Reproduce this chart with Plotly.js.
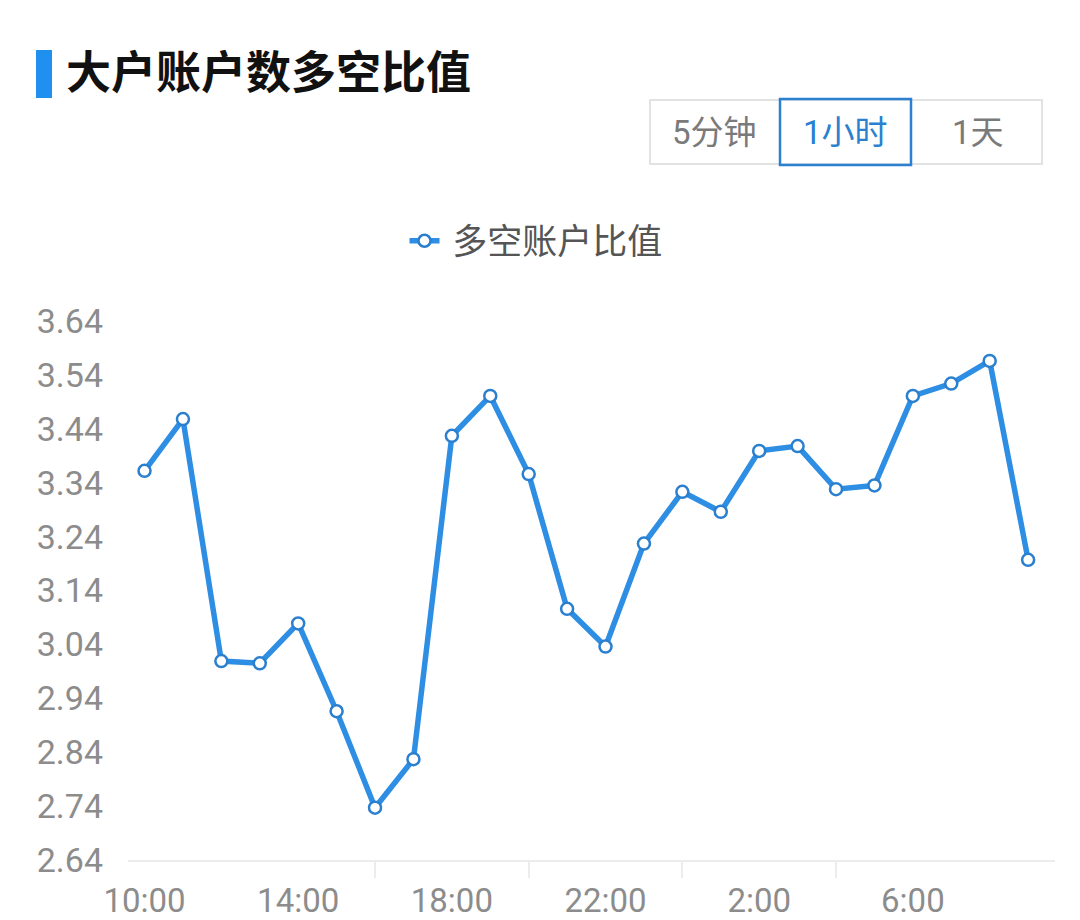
<!DOCTYPE html>
<html>
<head>
<meta charset="utf-8">
<script src="https://cdn.plot.ly/plotly-3.0.1.min.js"></script>
<style>
  html, body { margin: 0; padding: 0; background: #ffffff; }
  #chart { width: 1080px; height: 920px; }
</style>
</head>
<body>
<div id="chart"></div>
<script>
// Hourly long/short account ratio of large traders
const hours = ['10:00','11:00','12:00','13:00','14:00','15:00','16:00','17:00',
               '18:00','19:00','20:00','21:00','22:00','23:00','0:00','1:00',
               '2:00','3:00','4:00','5:00','6:00','7:00','8:00','9:00'];
const ratio = [3.362, 3.458, 3.009, 3.005, 3.079, 2.916, 2.737, 2.827,
               3.427, 3.501, 3.356, 3.106, 3.036, 3.227, 3.323, 3.286,
               3.399, 3.408, 3.328, 3.335, 3.501, 3.524, 3.566, 3.197];
const labelHours = ['10:00','14:00','18:00','22:00','2:00','6:00'];
const tickHours = ['16:00','20:00','0:00','4:00'];
const yTicks = [2.64, 2.74, 2.84, 2.94, 3.04, 3.14, 3.24, 3.34, 3.44, 3.54, 3.64];
const seriesName = '多空账户比值';
const chartTitle = '大户账户数多空比值';
const periods = ['5分钟', '1小时', '1天'];
const activePeriod = '1小时';

// page geometry (pixels)
const W = 1080, H = 920;
const M = { l: 128, r: 25, t: 321, b: 60 };
const PW = W - M.l - M.r, PH = H - M.t - M.b;
const px = x => (x - M.l) / PW;          // pixel x -> paper x
const py = y => 1 - (y - M.t) / PH;      // pixel y -> paper y

const blue = '#2d8ee3';
const numFont = 'Roboto, "Noto Sans CJK SC", sans-serif';
const cjkFont = '"Noto Sans CJK SC", Roboto, sans-serif';

const traces = [
  { // carries the secondary axis that draws the tick marks
    x: hours, y: ratio, xaxis: 'x2', yaxis: 'y', type: 'scatter', mode: 'lines',
    line: { width: 0 }, opacity: 0, showlegend: false, hoverinfo: 'skip'
  },
  {
    x: hours, y: ratio, name: '\u00a0' + seriesName, type: 'scatter', mode: 'lines+markers',
    line: { color: blue, width: 5.5 },
    marker: { size: 12, color: '#ffffff', line: { color: '#2a7fcf', width: 2.5 } }
  }
];

// segmented period switch
const btnX = [650, 780, 911, 1042];
const shapes = [
  { type: 'rect', xref: 'paper', yref: 'paper', x0: px(36), x1: px(52), y0: py(98), y1: py(50),
    fillcolor: '#1f8ff0', line: { width: 0 } },
  { type: 'rect', xref: 'paper', yref: 'paper', x0: px(btnX[0]), x1: px(btnX[3]), y0: py(164), y1: py(100),
    fillcolor: '#ffffff', line: { color: '#e2e2e2', width: 2 } }
];
const annotations = [];
periods.forEach((p, i) => {
  const on = p === activePeriod;
  if (on) {
    shapes.push({ type: 'rect', xref: 'paper', yref: 'paper',
      x0: px(btnX[i]), x1: px(btnX[i + 1]), y0: py(165), y1: py(99),
      fillcolor: 'rgba(0,0,0,0)', line: { color: '#2b80cf', width: 2.5 } });
  }
  annotations.push({
    text: p, xref: 'paper', yref: 'paper', showarrow: false,
    x: px((btnX[i] + btnX[i + 1]) / 2 + (i === 0 ? -1 : (i === 2 ? 1 : 0))), y: py(132),
    xanchor: 'center', yanchor: 'middle',
    font: { family: numFont, size: 33, color: on ? '#2b80cf' : '#7a7a7a' }
  });
});

const layout = {
  width: W, height: H,
  margin: M,
  paper_bgcolor: '#ffffff', plot_bgcolor: '#ffffff',
  title: {
    text: '<b>' + chartTitle + '</b>',
    xref: 'container', yref: 'container',
    x: 66 / W, xanchor: 'left', y: 1 - 73 / H, yanchor: 'middle',
    font: { family: cjkFont, size: 45, color: '#111111' }
  },
  showlegend: true,
  legend: {
    orientation: 'h', x: px(536), xanchor: 'center', y: py(241), yanchor: 'middle',
    font: { family: cjkFont, size: 35, color: '#555555' },
    bgcolor: 'rgba(0,0,0,0)'
  },
  xaxis: {
    type: 'category', categoryorder: 'array', categoryarray: hours,
    range: [-0.43, 23.7], fixedrange: true,
    tickmode: 'array', tickvals: labelHours, ticktext: labelHours,
    ticks: '', showgrid: false, zeroline: false,
    showline: true, linecolor: '#ececec', linewidth: 2,
    ticklabelstandoff: 10,
    tickfont: { family: numFont, size: 33, color: '#8c8c8c' }
  },
  xaxis2: {
    type: 'category', categoryorder: 'array', categoryarray: hours,
    overlaying: 'x', anchor: 'y', side: 'bottom',
    range: [-0.43, 23.7], fixedrange: true,
    tickmode: 'array', tickvals: tickHours,
    ticks: 'outside', ticklen: 17, tickwidth: 2, tickcolor: '#ececec',
    showticklabels: false, showgrid: false, zeroline: false, showline: false
  },
  yaxis: {
    range: [2.64, 3.64], fixedrange: true,
    tickmode: 'array', tickvals: yTicks, ticktext: yTicks.map(v => v.toFixed(2)),
    ticks: '', showgrid: false, zeroline: false, showline: false,
    ticklabelstandoff: 24,
    tickfont: { family: numFont, size: 34, color: '#8c8c8c' }
  },
  shapes: shapes,
  annotations: annotations
};

Plotly.newPlot('chart', traces, layout, { displayModeBar: false, staticPlot: true });
</script>
</body>
</html>
